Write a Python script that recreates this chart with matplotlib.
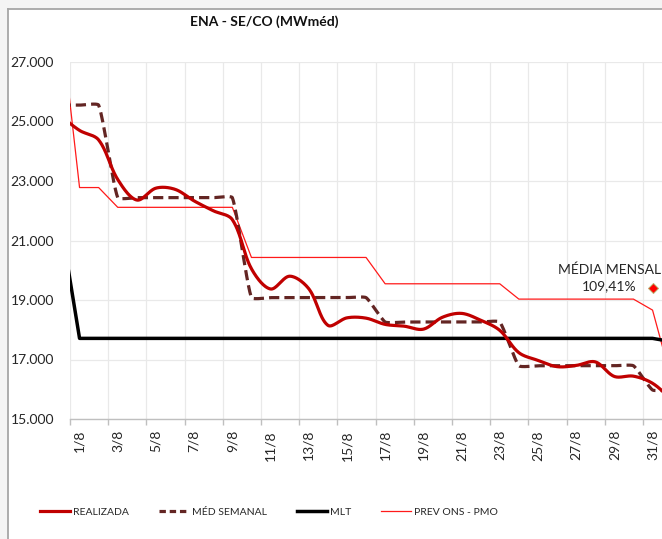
import numpy as np
import matplotlib
matplotlib.use("Agg")
import matplotlib.pyplot as plt
from matplotlib.lines import Line2D
from matplotlib.patches import Rectangle

plt.rcParams['font.family'] = ['Lato', 'DejaVu Sans']

# ---------------- data ----------------
days = ["31/7"] + [f"{d}/8" for d in range(1, 32)] + ["1/9"]
realizada = [25200, 24700, 24380, 23050, 22360, 22760, 22720, 22330, 22000, 21700,
             20050, 19370, 19800, 19380, 18150, 18400, 18390, 18180, 18120, 18020,
             18420, 18550, 18320, 17980, 17230, 16970, 16760, 16800, 16920, 16430,
             16440, 16200, 15650]
med_semanal = [25550, 25550, 25550, 22440, 22440, 22440, 22440, 22440, 22440, 22440,
               19080, 19080, 19080, 19080, 19080, 19080, 19080, 18260, 18260, 18260,
               18260, 18260, 18260, 18260, 16790, 16790, 16790, 16790, 16790, 16790,
               16790, 15975, 15975]
mlt = [21650] + [17710] * 31 + [17600]
prev_ons = [28460, 22780, 22780, 22115, 22115, 22115, 22115, 22115, 22115, 22115,
            20430, 20430, 20430, 20430, 20430, 20430, 20430, 19545, 19545, 19545,
            19545, 19545, 19545, 19545, 19030, 19030, 19030, 19030, 19030, 19030,
            19030, 18660, 16300]
media_mensal_day = "31/8"
media_mensal_value = 19400
media_mensal_label = "MÉDIA MENSAL\n109,41%"
title = "ENA - SE/CO (MWméd)"
y_ticks = [15000, 17000, 19000, 21000, 23000, 25000, 27000]
y_labels = ["15.000", "17.000", "19.000", "21.000", "23.000", "25.000", "27.000"]

# ---------------- figure ----------------
W, H = 662, 539
fig = plt.figure(figsize=(W / 100, H / 100), dpi=100, facecolor='#f4f4f4')
fig.patches.append(Rectangle((8 / W, 0), 1 - 8 / W, 1 - 9 / H, transform=fig.transFigure,
                             facecolor='white', edgecolor='none', zorder=-5))
fig.add_artist(Line2D([8 / W, 8 / W], [0, 1 - 8.5 / H], transform=fig.transFigure,
                      color='#a6a6a6', lw=1.3, zorder=-4))
fig.add_artist(Line2D([7.5 / W, 1], [1 - 9 / H, 1 - 9 / H], transform=fig.transFigure,
                      color='#a6a6a6', lw=1.3, zorder=-4))

ax_left, ax_right, ax_top, ax_bot = 70, 662.1, 62, 419
ax = fig.add_axes([ax_left / W, 1 - ax_bot / H, (ax_right - ax_left) / W, (ax_bot - ax_top) / H])
ax.set_facecolor('none')

x = np.arange(len(days))
ax.set_xlim(0.5, 31.5)
ax.set_ylim(15000, 27000)


def excel_smooth(ax, xs, ys, n=30, tension=1.0):
    pts = ax.transData.transform(np.column_stack([xs, ys]).astype(float))
    N = len(pts)
    out = [pts[0]]
    k = tension / 3
    for i in range(N - 1):
        p0 = pts[i - 1] if i > 0 else pts[i]
        p1 = pts[i]
        p2 = pts[i + 1]
        p3 = pts[i + 2] if i + 2 < N else pts[i + 1]
        l01 = np.linalg.norm(p1 - p0)
        l12 = np.linalg.norm(p2 - p1)
        l23 = np.linalg.norm(p3 - p2)
        c1 = p1 + (p2 - p0) * (l12 / (l01 + l12) if l01 + l12 > 0 else 0) * k
        c2 = p2 - (p3 - p1) * (l12 / (l12 + l23) if l12 + l23 > 0 else 0) * k
        t = np.linspace(0, 1, n)[1:, None]
        seg = ((1 - t) ** 3) * p1 + 3 * ((1 - t) ** 2) * t * c1 + 3 * (1 - t) * t ** 2 * c2 + t ** 3 * p2
        out.extend(seg)
    out = np.array(out)
    d = ax.transData.inverted().transform(out)
    return d[:, 0], d[:, 1]


c_real = '#c00000'
c_med = '#632523'
c_prev = '#ff1a1a'

ax.plot(x, prev_ons, color=c_prev, lw=0.9, zorder=3)
ax.plot(x, mlt, color='black', lw=2.5, zorder=4, solid_joinstyle='round')
sx, sy = excel_smooth(ax, x, med_semanal, tension=0.45)
ax.plot(sx, sy, color=c_med, lw=2.3, dashes=(3.2, 1.6), zorder=5)
sx, sy = excel_smooth(ax, x, realizada)
ax.plot(sx, sy, color=c_real, lw=2.3, zorder=6, solid_capstyle='round')

mi = days.index(media_mensal_day)
ax.plot([x[mi]], [media_mensal_value], marker='D', ms=5, color='#ff0000',
        markeredgecolor='#b8b070', markeredgewidth=0.7, zorder=7, clip_on=False)
ax.annotate(media_mensal_label, xy=(x[mi], media_mensal_value), xytext=(-31, 7.5),
            textcoords='offset points', ha='center', va='center', multialignment='center',
            fontsize=10, color='#262626', linespacing=1.35, zorder=8)

# axes styling
major = np.arange(0.5, 31.5, 2)
ax.set_xticks(major)
ax.set_xticklabels([])
lab_idx = [days.index(f"{d}/8") for d in range(1, 32, 2)]
ax.set_xticks([x[i] for i in lab_idx], minor=True)
ax.set_xticklabels([days[i] for i in lab_idx], minor=True, rotation=90, fontsize=10, color='#262626')
ax.tick_params(axis='x', which='major', length=4, direction='out', color='#bfbfbf', width=1)
ax.tick_params(axis='x', which='minor', length=0, pad=8)
ax.set_yticks(y_ticks)
ax.set_yticklabels(y_labels, fontsize=10, color='#262626')
ax.tick_params(axis='y', length=0, pad=11.5)
ax.grid(True, which='major', color='#e9e9e9', lw=0.9)
ax.set_axisbelow(True)
for s in ['left', 'right', 'top']:
    ax.spines[s].set_visible(False)
ax.spines['bottom'].set_color('#bfbfbf')
ax.spines['bottom'].set_linewidth(1)

fig.text(264 / W, 1 - 22 / H, title, ha='center', va='center', fontsize=10,
         fontweight='bold', color='#111111')

handles = [Line2D([], [], color=c_real, lw=2.3),
           Line2D([], [], color=c_med, lw=2.3, dashes=(2.0, 1.2)),
           Line2D([], [], color='black', lw=2.5),
           Line2D([], [], color=c_prev, lw=0.9)]
labels = ["REALIZADA", "MÉD SEMANAL", "MLT", "PREV ONS - PMO"]
fig.legend(handles, labels, loc='center left', bbox_to_anchor=(40 / W, 1 - 512 / H),
           ncol=4, frameon=False, fontsize=7.5, handlelength=2.9, handletextpad=0.25,
           columnspacing=2.9, borderpad=0, borderaxespad=0, labelcolor='#262626')

fig.savefig("out.png", dpi=100, facecolor=fig.get_facecolor())
